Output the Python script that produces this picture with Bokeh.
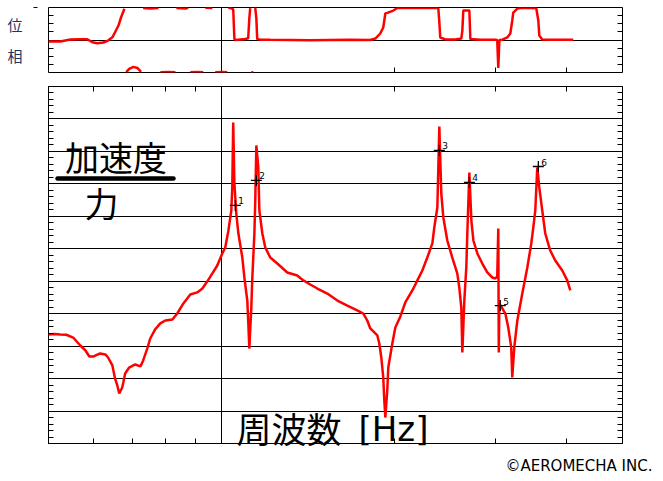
import math
from bokeh.plotting import figure
from bokeh.layouts import column
from bokeh.models import FixedTicker, LinearAxis, LogAxis, Label, Range1d, CustomLabelingPolicy
from bokeh.core.properties import value
from bokeh.embed import file_html
from bokeh.resources import INLINE

# ---------------- data ----------------
mag_freq = [50.0, 51.4, 52.4, 53.7, 55.2, 56.8, 58.0, 58.9, 59.8, 61.5, 62.8, 63.5, 64.6, 65.3,
            65.9, 66.4, 67.2, 67.5, 68.0, 69.1, 70.8, 72.3, 73.1, 74.3, 75.2, 76.7, 78.3, 79.9,
            82.2, 83.8, 85.9, 88.3, 90.8, 92.7, 94.5, 96.5, 98.4, 100.4, 101.6, 102.9, 104.1,
            104.5, 104.9, 105.4, 106.2, 107.1, 108.8, 109.7, 111.0, 111.4, 111.9, 112.8, 113.2,
            114.2, 114.6, 115.1, 116.0, 116.5, 117.9, 119.3, 121.7, 125.2, 130.3, 135.6, 139.0,
            142.9, 147.0, 153.0, 159.3, 165.8, 172.5, 176.8, 179.6, 181.8, 187.0, 188.5, 190.0,
            191.5, 192.3, 193.1, 194.6, 195.4, 198.6, 201.0, 205.1, 209.2, 215.2, 219.6, 224.0,
            228.5, 233.2, 235.0, 237.9, 239.8, 241.7, 243.7, 247.6, 252.6, 257.7, 259.8, 261.9,
            263.0, 265.1, 267.2, 268.3, 270.5, 272.7, 274.9, 279.3, 284.9, 290.7, 296.6, 300.2,
            302.5, 303.8, 304.4, 305.1, 312.5, 316.2, 320.0, 321.3, 323.9, 327.9, 334.5, 341.3,
            346.8, 349.6, 352.4, 355.2, 358.1, 362.4, 366.8, 374.2, 381.8, 392.7, 400.6, 405.5]
mag_db = [-52.8, -52.5, -52.8, -53.0, -54.7, -59.6, -62.7, -66.4, -66.4, -64.5, -65.1, -67.0,
          -71.9, -79.9, -84.3, -89.2, -85.5, -82.4, -76.9, -73.2, -71.3, -72.5, -68.8, -61.5,
          -55.3, -49.7, -46.0, -44.2, -43.6, -39.9, -33.7, -28.2, -26.9, -24.5, -20.2, -15.2,
          -10.3, -2.9, 0.8, 11.3, 23.6, 37.8, 77.8, 40.2, 21.7, 9.4, -5.4, -17.7, -31.9, -44.2,
          -61.5, -36.2, -19.5, 9.4, 29.8, 63.7, 50.1, 23.6, 9.4, 0.8, -5.4, -9.1, -14.6, -16.5,
          -19.5, -22.0, -24.5, -27.6, -31.9, -35.0, -38.0, -39.9, -44.2, -49.1, -53.4, -58.4,
          -67.0, -79.3, -93.5, -104.0, -87.3, -73.2, -58.4, -48.5, -41.7, -33.1, -25.7, -19.5,
          -13.4, -5.4, 3.3, 13.1, 25.4, 75.4, 34.1, 19.3, 5.1, -5.4, -15.2, -23.9, -36.2, -63.9,
          -31.9, -11.5, 9.4, 47.0, 17.4, 5.1, -2.9, -9.1, -14.6, -17.7, -18.3, -17.1, 12.5,
          -63.9, -33.7, -39.9, -48.5, -60.8, -79.3, -60.8, -44.2, -27.6, -11.5, 3.3, 13.1, 23.6,
          50.1, 37.8, 23.6, 9.4, -1.1, -7.2, -13.4, -19.5, -25.7]

phase_freq = [50.0, 52.4, 54.6, 56.8, 58.4, 59.6, 60.8, 62.3, 63.5, 64.6, 65.3, 66.2, 66.9, 67.8,
              68.3, 69.1, 70.3, 71.4, 72.5, 73.1, 75.2, 77.7, 78.3, 80.9, 83.2, 83.5, 86.6, 87.6,
              88.3, 90.8, 93.0, 93.8, 96.5, 97.6, 100.4, 102.4, 102.9, 104.1, 104.9, 105.4, 106.2,
              107.9, 110.1, 111.4, 111.9, 112.3, 112.8, 113.7, 114.2, 114.6, 115.1, 115.5, 116.9,
              121.7, 131.9, 142.9, 154.9, 167.8, 181.8, 185.5, 189.2, 191.5, 193.1, 194.6, 199.4,
              202.6, 213.5, 222.2, 238.8, 239.8, 240.7, 245.6, 255.7, 261.9, 263.0, 264.0, 268.3,
              270.5, 271.6, 282.7, 300.2, 302.5, 303.8, 305.1, 308.7, 315.0, 318.8, 321.3, 322.6,
              327.9, 335.8, 353.8, 356.7, 358.1, 362.4, 374.2, 410.4]
phase_deg = [-8, -8, 3, 4, 4, -12, -18, -14, -3, 15, 43, 80, 126, 173,
             182, 200, 211, 205, 184, 177, 174, 177, 182, 183, 182, 177, 175, 178,
             182, 183, 182, 178, 177, 182, 183, 182, 178, 176, 170, 5, 0,
             3, 6, 10, 120, 176, 182, 182, 178, 176, 120, 5, 2,
             1, 0, -1, 0, 1, 0, 8, 36, 69, 147, 150, 163,
             177, 178, 177, 178, 100, 14, 3, 3, 8, 52, 163, 164,
             163, 5, 2, 1, 0, -155, 0, 2, 14, 36, 108, 152,
             174, 178, 176, 108, 25, 3, 1, 1]

peak_freq = [105.8, 115.1, 239.8, 270.5, 306.2, 356.7]
peak_db = [26.7, 42.1, 60.6, 40.9, -35.0, 50.7]
peak_labels = ["1", "2", "3", "4", "5", "6"]

freq_ticks = [60, 70, 80, 90, 100, 200, 300, 400]
F_MIN, F_MAX = 50, 500
PH_MIN, PH_MAX = -180, 180
DB_MIN, DB_MAX = -120, 100

# ---------------- layout (page pixels) ----------------
PAGE_W, PAGE_H = 663, 481
FR_L, FR_R = 48, 622          # frame left / right on the page
P1_T, P1_B = 7, 72            # top panel frame on the page
P1_H = 80
P2_T, P2_B = 86, 443          # bottom panel frame on the page
P2_H = PAGE_H - P1_H


def fx(px):
    return F_MIN * 10 ** ((px - FR_L) / (FR_R - FR_L) * math.log10(F_MAX / F_MIN))


def fy2(py):
    return DB_MAX - (py - P2_T) * (DB_MAX - DB_MIN) / (P2_B - P2_T)


RED = "#ff0000"
JP = "Noto Sans CJK JP"
NO_LABELS = "for (const i of indices) { indices.unset(i) }"


def style_axis(ax, ticks, minor=None):
    ax.ticker = FixedTicker(ticks=ticks, minor_ticks=minor or [])
    ax.major_label_text_font_size = "0px"
    ax.major_label_standoff = 0
    ax.major_label_policy = CustomLabelingPolicy(code=NO_LABELS)
    ax.axis_line_color = None
    ax.major_tick_in = 5
    ax.major_tick_out = 0
    ax.minor_tick_in = 5 if minor else 0
    ax.minor_tick_out = 0
    ax.major_tick_line_color = "black"
    ax.minor_tick_line_color = "black"
    ax.major_tick_line_width = 1
    ax.minor_tick_line_width = 1


def wrap_segments(fs, ps):
    xs, ys = [[]], [[]]
    prev = None
    for f, p in zip(fs, ps):
        w = ((p + 180) % 360) - 180
        if prev is not None and abs(w - prev) > 180:
            xs.append([])
            ys.append([])
        xs[-1].append(f)
        ys[-1].append(w)
        prev = w
    return xs, ys


# ---------------- top panel: phase ----------------
p1 = figure(width=PAGE_W, height=P1_H, x_axis_type="log",
            x_range=Range1d(F_MIN, F_MAX), y_range=Range1d(PH_MIN, PH_MAX),
            output_backend="svg", toolbar_location=None,
            min_border_left=FR_L, min_border_right=PAGE_W - FR_R,
            min_border_top=P1_T, min_border_bottom=P1_H - P1_B,
            background_fill_color="white", border_fill_color="white",
            outline_line_color="black", outline_line_width=1)
style_axis(p1.xaxis[0], [200, 300, 400])
style_axis(p1.yaxis[0], [-135, -90, -45, 45, 90, 135])
ra1 = LinearAxis()
style_axis(ra1, [-135, -90, -45, 45, 90, 135])
p1.add_layout(ra1, "right")
p1.xgrid.ticker = FixedTicker(ticks=[100])
p1.ygrid.ticker = FixedTicker(ticks=[0])
for g in (p1.xgrid, p1.ygrid):
    g.grid_line_color = "black"
    g.grid_line_alpha = 1
    g.grid_line_width = 1

xs, ys = wrap_segments(phase_freq, phase_deg)
p1.multi_line(xs, ys, line_color=RED, line_width=2.5)

# ---------------- bottom panel: magnitude ----------------
p2 = figure(width=PAGE_W, height=P2_H, x_axis_type="log",
            x_range=Range1d(F_MIN, F_MAX), y_range=Range1d(DB_MIN, DB_MAX),
            output_backend="svg", toolbar_location=None,
            min_border_left=FR_L, min_border_right=PAGE_W - FR_R,
            min_border_top=P2_T - P1_H, min_border_bottom=PAGE_H - P2_B,
            background_fill_color="white", border_fill_color="white",
            outline_line_color="black", outline_line_width=1)
db_major = list(range(DB_MIN, DB_MAX + 1, 20))
db_minor = list(range(DB_MIN, DB_MAX + 1, 4))
style_axis(p2.xaxis[0], freq_ticks)
ta2 = LogAxis()
style_axis(ta2, freq_ticks)
p2.add_layout(ta2, "above")
style_axis(p2.yaxis[0], db_major, db_minor)
ra2 = LinearAxis()
style_axis(ra2, db_major, db_minor)
p2.add_layout(ra2, "right")
p2.xgrid.ticker = FixedTicker(ticks=[100])
p2.ygrid.ticker = FixedTicker(ticks=db_major[1:-1])
for g in (p2.xgrid, p2.ygrid):
    g.grid_line_color = "black"
    g.grid_line_alpha = 1
    g.grid_line_width = 1

p2.line(mag_freq, mag_db, line_color=RED, line_width=2.5)
p2.scatter(peak_freq, peak_db, marker="cross", size=11, line_color="black", line_width=1.3)
p2.text(peak_freq, peak_db, text=peak_labels, x_offset=3, y_offset=-1,
        text_font=value("DejaVu Sans"), text_font_size=value("9px"),
        text_color="black", text_align="left", text_baseline="bottom")

# fraction label: acceleration / force
p2.add_layout(Label(x=fx(115.5), y=fy2(156), text="加速度", text_font=JP,
                    text_font_size="34px", text_color="black",
                    text_align="center", text_baseline="middle"))
p2.segment(x0=[fx(57)], y0=[fy2(178)], x1=[fx(173)], y1=[fy2(178)],
           line_color="black", line_width=4.5, line_cap="round")
p2.add_layout(Label(x=fx(101), y=fy2(202), text="力", text_font=JP,
                    text_font_size="34px", text_color="black",
                    text_align="center", text_baseline="middle"))

# ---------------- transparent overlay for texts outside the panels ----------------
ov = figure(width=PAGE_W, height=PAGE_H, x_range=Range1d(0, PAGE_W), y_range=Range1d(PAGE_H, 0),
            output_backend="svg", toolbar_location=None,
            x_axis_location=None, y_axis_location=None, min_border=0,
            background_fill_color=None, border_fill_color=None, outline_line_color=None)
ov.grid.visible = False
ov.frame_align = False
ov.margin = (-PAGE_H, 0, 0, 0)


def ov_label(px, py, text, **kw):
    ov.add_layout(Label(x=px, y=py, text=text, **kw))


ov_label(14.5, 24, "位", text_font=JP, text_font_size="15px", text_color="#1e3466",
         text_align="center", text_baseline="middle")
ov_label(14.5, 55, "相", text_font=JP, text_font_size="15px", text_color="#1e3466",
         text_align="center", text_baseline="middle")
ov.segment(x0=[33], y0=[7], x1=[37], y1=[7], line_color="black", line_width=1)
ov_label(236, 427, "周波数", text_font=JP, text_font_size="35px", text_color="black",
         text_align="left", text_baseline="middle")
ov_label(358, 428, "[Hz]", text_font="DejaVu Sans", text_font_size="34px",
         text_color="black", text_align="left", text_baseline="middle")
ov_label(652, 465, "©AEROMECHA INC.", text_font="DejaVu Sans", text_font_size="15px",
         text_color="black", text_align="right", text_baseline="middle")

layout = column(p1, p2, ov, spacing=0)
open("out.html", "w").write(file_html(layout, INLINE))
